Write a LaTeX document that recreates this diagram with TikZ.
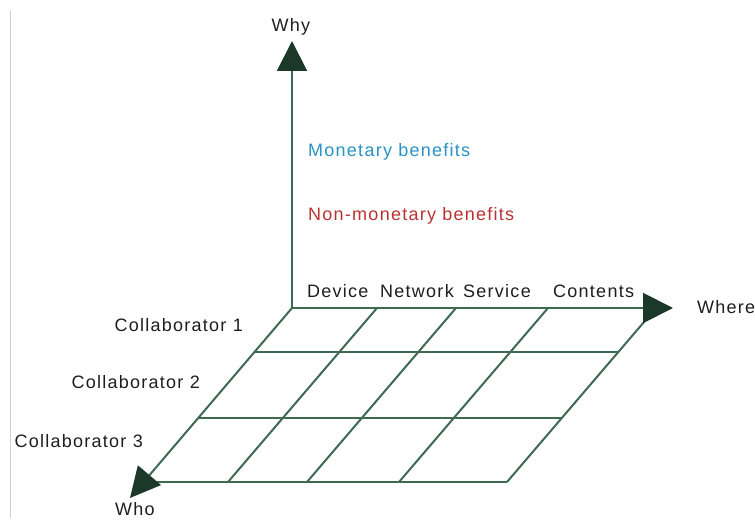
\documentclass[tikz,border=0pt]{standalone}
\usepackage{fontspec}
\setmainfont{Liberation Sans}[LetterSpace=7]
\usetikzlibrary{arrows.meta,positioning,calc}

\definecolor{gridgreen}{RGB}{62,106,82}
\definecolor{tipgreen}{RGB}{27,56,40}
\definecolor{moneyblue}{RGB}{40,146,196}
\definecolor{nonmoneyred}{RGB}{186,50,50}
\definecolor{labelgray}{RGB}{30,30,30}

\begin{document}
\begin{tikzpicture}[x=1pt,y=-1pt,
  axis/.style={draw=gridgreen, line width=2pt,
    -{Triangle[length=30pt,width=30pt,color=tipgreen]}},
  gridline/.style={draw=gridgreen, line width=2pt},
  lbl/.style={inner sep=0pt, text=labelgray, font=\fontsize{18}{21}\selectfont},
  ]
\useasboundingbox (0,0) rectangle (755,521);

% page edge
\draw[black!18, line width=1pt] (10.7,11) -- (10.7,518);

%origin and axis ends
\coordinate (O) at (292,308);
\coordinate (whyEnd) at (292,41);
\coordinate (whereEnd) at (673,308);
\coordinate (whoEnd) at (130,498);

%column tops and bottoms
\coordinate (T1) at (377,308);
\coordinate (T2) at (456,308);
\coordinate (T3) at (548,308);
\coordinate (T4) at (656,308);
\coordinate (B0) at (143,482);
\coordinate (B1) at (228,482);
\coordinate (B2) at (307,482);
\coordinate (B3) at (399,482);
\coordinate (B4) at (507,482);

%row ends
\coordinate (R1a) at (254,352);
\coordinate (R1b) at (618,352);
\coordinate (R2a) at (198,418);
\coordinate (R2b) at (562,418);

%--------------------------- grid ------------
\draw[gridline] (T1) -- (B1);
\draw[gridline] (T2) -- (B2);
\draw[gridline] (T3) -- (B3);
\draw[gridline] (T4) -- (B4);
\draw[gridline] (R1a) -- (R1b);
\draw[gridline] (R2a) -- (R2b);
\draw[gridline] (B0) -- (B4);

%--------------------------- axes ------------
\draw[axis] (O) -- (whyEnd);
\draw[axis] (O) -- (whereEnd);
\draw[axis] (O) -- (whoEnd);

\node[lbl, anchor=base] (why) at (291,31.7) {Why};
\node[lbl, anchor=base west] (where) at (697,314) {Where};
\node[lbl, anchor=base] (who) at (135,515.5) {Who};

%--------------------------- benefits ------------
\node[lbl, anchor=base west, text=moneyblue] (money) at (308,156.7) {Monetary benefits};
\node[lbl, anchor=base west, text=nonmoneyred] (nonmoney) at (308,220.7) {Non-monetary benefits};

%--------------------------- columns ------------
\node[lbl, anchor=base west] (device) at (307,297.7) {Device};
\node[lbl, anchor=base west] (network) at (380,297.7) {Network};
\node[lbl, anchor=base west] (service) at (463,297.7) {Service};
\node[lbl, anchor=base west] (contents) at (553,297.7) {Contents};

%--------------------------- rows ------------
\node[lbl, anchor=base east] (col1) at (243,331.7) {Collaborator 1};
\node[lbl, anchor=base east] (col2) at (200,388.3) {Collaborator 2};
\node[lbl, anchor=base east] (col3) at (143,447.7) {Collaborator 3};

\end{tikzpicture}
\end{document}
